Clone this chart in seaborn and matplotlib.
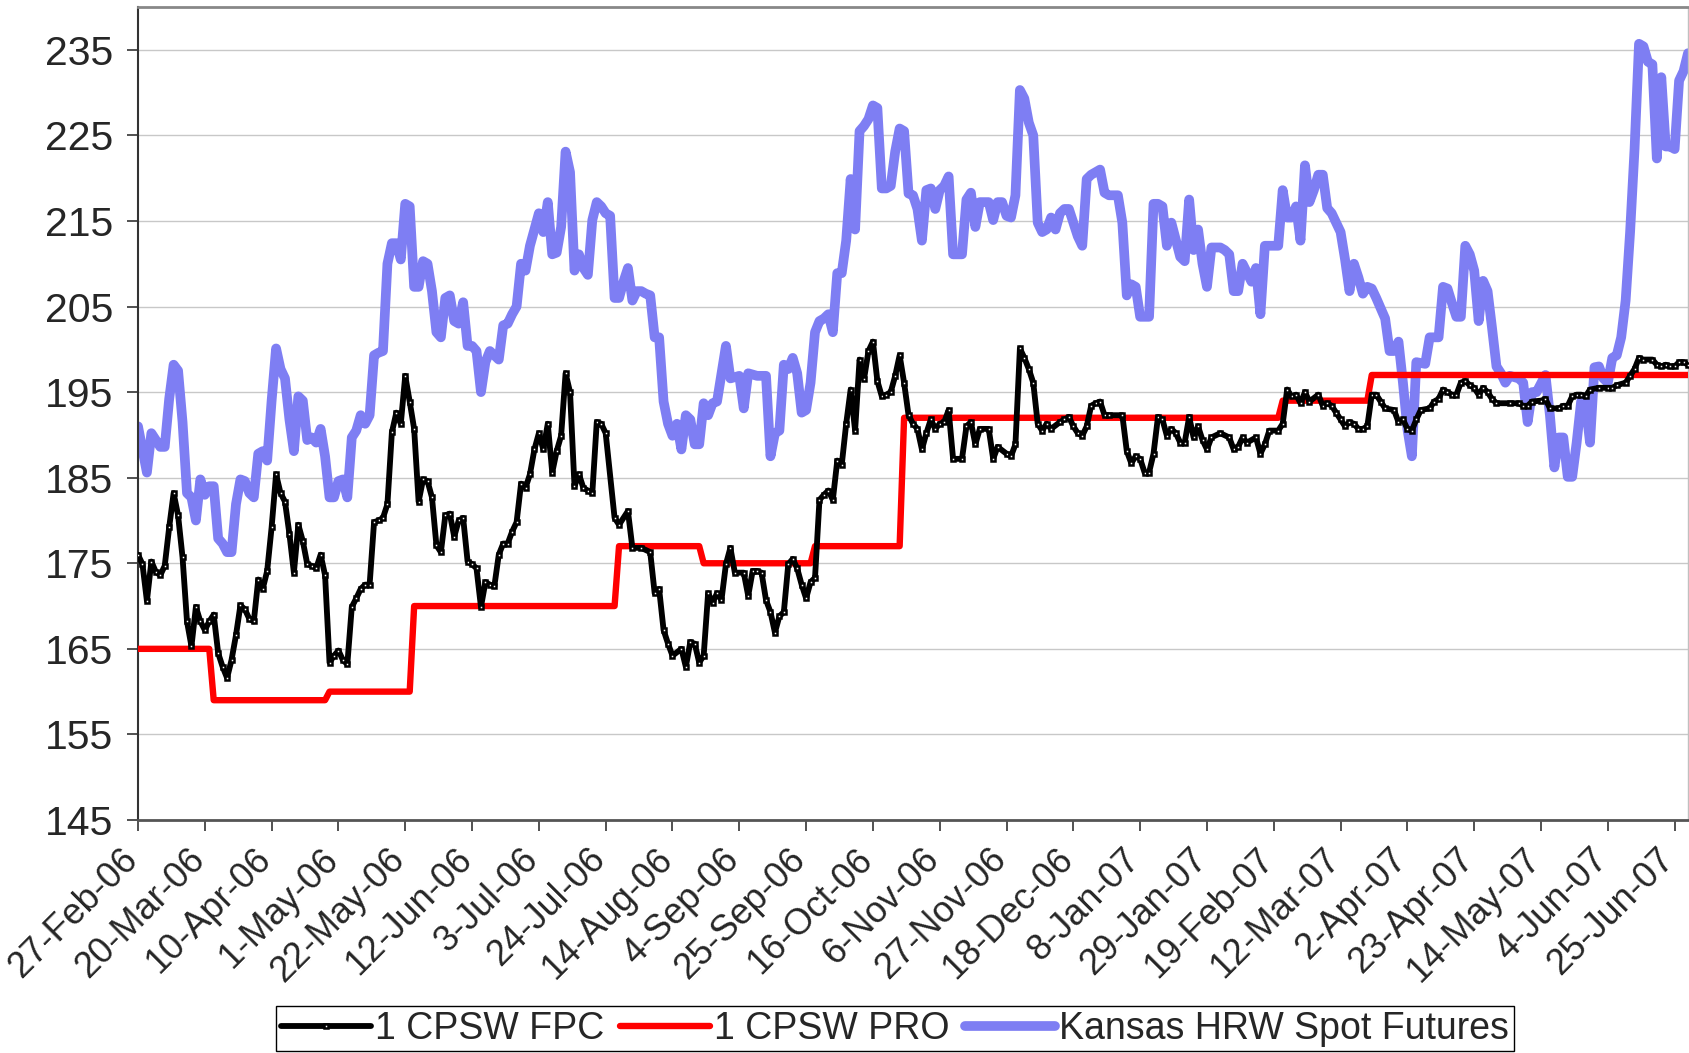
import pandas as pd
import matplotlib
matplotlib.use("Agg")
import matplotlib.pyplot as plt
from matplotlib.transforms import ScaledTranslation
import seaborn as sns

# x values are trading days counted from 27-Feb-06 (day 0)
last_day = 348

fpc_day = [0, 1, 2, 3, 4, 5, 6, 7, 8, 9, 10, 11, 12, 13, 14, 15, 16, 17, 18, 19,
           20, 21, 22, 23, 24, 25, 26, 27, 28, 29, 30, 31, 32, 33, 34, 35, 36, 37, 38, 39,
           40, 41, 42, 43, 44, 45, 46, 47, 48, 49, 50, 51, 52, 53, 54, 55, 56, 57, 58, 59,
           60, 61, 62, 63, 64, 65, 66, 67, 68, 69, 70, 71, 72, 73, 74, 75, 76, 77, 78, 79,
           80, 81, 82, 83, 84, 85, 86, 87, 88, 89, 90, 91, 92, 93, 94, 95, 96, 97, 98, 99,
           100, 101, 102, 103, 104, 105, 107, 108, 110, 111, 113, 115, 116, 117, 118, 119, 120, 122, 123, 124,
           125, 126, 127, 128, 129, 130, 131, 132, 133, 134, 136, 137, 138, 139, 140, 141, 142, 143, 144, 145,
           146, 147, 148, 149, 150, 151, 152, 153, 154, 155, 156, 157, 158, 159, 160, 161, 162, 163, 164, 165,
           166, 167, 168, 169, 170, 171, 172, 173, 174, 175, 176, 177, 178, 179, 180, 181, 182, 183, 185, 186,
           187, 188, 189, 191, 192, 193, 195, 196, 197, 198, 199, 200, 201, 202, 203, 204, 205, 207, 208, 209,
           210, 211, 212, 213, 214, 215, 216, 217, 218, 221, 222, 223, 224, 225, 226, 227, 228, 229, 230, 231,
           232, 233, 234, 235, 236, 237, 238, 239, 240, 241, 243, 245, 246, 247, 248, 249, 251, 252, 253, 254,
           256, 257, 258, 259, 260, 261, 262, 263, 265, 266, 267, 268, 269, 270, 271, 272, 273, 274, 275, 276,
           277, 278, 279, 280, 282, 283, 284, 285, 286, 287, 288, 290, 291, 292, 293, 294, 295, 296, 297, 298,
           299, 300, 301, 302, 303, 304, 305, 308, 310, 311, 312, 313, 315, 316, 317, 319, 320, 321, 322, 323,
           324, 325, 326, 328, 330, 331, 332, 334, 335, 336, 337, 338, 340, 341, 342, 343, 344, 345, 346, 347,
           348]
fpc_val = [176.0, 174.9, 170.6, 175.2, 174.0, 173.6, 174.7, 179.2, 183.2, 180.6, 175.7, 168.2, 165.3, 169.9, 168.2, 167.2, 168.2, 169.0, 164.5, 162.9,
           161.6, 163.7, 166.6, 170.1, 169.6, 168.5, 168.2, 173.1, 172.0, 174.1, 179.2, 185.4, 183.2, 182.2, 178.4, 173.9, 179.5, 177.6, 174.9, 174.7,
           174.4, 176.0, 173.6, 163.4, 164.2, 164.8, 163.7, 163.2, 169.9, 170.9, 172.0, 172.5, 172.5, 179.8, 180.0, 180.3, 181.9, 190.3, 192.6, 191.3,
           196.9, 193.9, 190.7, 182.2, 184.8, 184.6, 182.7, 177.1, 176.3, 180.6, 180.8, 178.1, 180.0, 180.3, 175.2, 174.9, 174.4, 169.9, 172.8, 172.5,
           172.3, 176.0, 177.3, 177.3, 178.7, 179.8, 184.3, 183.8, 185.4, 188.3, 190.2, 188.3, 191.3, 185.6, 188.1, 189.9, 197.2, 195.0, 184.0, 185.4,
           183.8, 183.5, 183.2, 191.5, 191.3, 190.2, 180.3, 179.5, 181.1, 176.8, 176.8, 176.3, 171.5, 172.0, 167.2, 165.6, 164.2, 165.0, 162.9, 165.8,
           165.6, 163.4, 164.2, 171.5, 170.4, 171.5, 170.7, 174.9, 176.8, 173.9, 173.9, 171.2, 174.1, 174.1, 173.9, 170.7, 169.3, 166.9, 168.8, 169.3,
           174.9, 175.5, 174.4, 172.5, 170.9, 172.8, 173.3, 182.4, 183.0, 183.5, 182.4, 187.0, 186.5, 191.3, 195.3, 190.5, 198.8, 196.5, 199.8, 200.9,
           196.3, 194.5, 194.7, 195.0, 196.9, 199.3, 196.1, 192.3, 191.3, 190.7, 188.3, 190.2, 191.8, 190.7, 191.3, 191.5, 192.9, 187.2, 187.2, 191.0,
           191.5, 188.9, 190.7, 190.7, 187.2, 188.6, 187.8, 187.5, 188.9, 200.1, 199.0, 197.7, 196.1, 191.3, 190.5, 191.3, 190.7, 191.5, 191.8, 192.1,
           191.0, 190.2, 189.9, 191.0, 193.4, 193.7, 193.9, 192.3, 192.3, 192.3, 188.1, 186.7, 187.5, 187.2, 185.6, 185.6, 187.8, 192.1, 191.8, 189.9,
           190.7, 190.2, 189.1, 189.1, 192.1, 189.7, 191.0, 189.4, 188.3, 189.7, 190.2, 189.7, 188.3, 188.6, 189.7, 189.1, 189.7, 187.8, 188.9, 190.5,
           190.5, 191.3, 195.3, 194.5, 194.7, 193.7, 195.0, 193.9, 194.7, 193.4, 193.7, 193.4, 192.6, 191.8, 191.0, 191.5, 191.3, 190.7, 190.7, 191.0,
           194.7, 194.7, 193.9, 193.1, 192.9, 191.5, 191.8, 190.7, 190.5, 191.8, 192.9, 193.1, 193.9, 194.2, 195.3, 195.0, 194.7, 194.7, 196.1, 196.3,
           195.8, 195.5, 194.7, 195.5, 195.0, 194.2, 193.7, 193.7, 193.7, 193.4, 193.4, 193.9, 194.0, 194.2, 193.1, 193.1, 193.4, 193.4, 194.5, 194.7,
           194.7, 194.5, 195.3, 195.5, 195.5, 195.5, 195.8, 196.1, 196.9, 197.7, 199.0, 198.8, 198.8, 198.2, 198.0, 198.2, 198.0, 198.0, 198.5, 198.5,
           198.2]

kansas_day = [0, 2, 3, 5, 6, 7, 8, 9, 10, 11, 12, 13, 14, 15, 16, 17, 18, 19, 20, 21,
              22, 23, 24, 25, 26, 27, 28, 29, 30, 31, 32, 33, 34, 35, 36, 37, 38, 39, 40, 41,
              42, 43, 44, 45, 46, 47, 48, 49, 50, 51, 52, 53, 54, 55, 56, 57, 58, 59, 60, 61,
              62, 63, 64, 65, 66, 67, 68, 69, 70, 71, 72, 73, 74, 75, 76, 77, 78, 79, 80, 81,
              82, 83, 84, 85, 86, 87, 88, 90, 91, 92, 93, 94, 95, 96, 97, 98, 99, 100, 101, 102,
              103, 104, 105, 106, 107, 108, 109, 110, 111, 112, 113, 114, 115, 116, 117, 118, 119, 120, 121, 122,
              123, 124, 125, 126, 127, 128, 129, 130, 132, 133, 135, 136, 137, 139, 141, 142, 143, 144, 145, 146,
              147, 148, 149, 150, 151, 152, 153, 154, 155, 156, 157, 158, 159, 160, 161, 162, 163, 164, 165, 166,
              167, 168, 169, 170, 171, 172, 173, 174, 175, 176, 177, 178, 179, 180, 181, 182, 183, 184, 185, 186,
              187, 188, 189, 191, 192, 193, 194, 195, 196, 197, 198, 199, 200, 201, 202, 203, 204, 205, 206, 207,
              208, 209, 210, 211, 212, 213, 214, 216, 217, 218, 220, 221, 222, 223, 224, 225, 227, 228, 229, 230,
              231, 232, 234, 235, 236, 237, 238, 239, 240, 241, 243, 244, 245, 246, 247, 248, 250, 251, 252, 253,
              256, 257, 258, 259, 260, 261, 262, 263, 264, 265, 266, 267, 268, 269, 270, 271, 272, 273, 274, 275,
              276, 277, 278, 280, 281, 282, 283, 284, 285, 286, 287, 289, 290, 292, 293, 294, 295, 296, 297, 298,
              299, 300, 301, 302, 303, 304, 305, 306, 307, 308, 310, 311, 312, 313, 314, 316, 317, 318, 319, 320,
              321, 322, 323, 324, 325, 326, 327, 328, 329, 330, 331, 332, 333, 334, 335, 336, 337, 338, 339, 340,
              341, 342, 343, 344, 345, 346, 347, 348]
kansas_val = [191.0, 185.6, 190.2, 188.6, 188.6, 194.2, 198.2, 197.5, 191.5, 183.2, 182.7, 180.0, 184.8, 183.0, 184.0, 184.0, 177.9, 177.3, 176.3, 176.3,
              181.9, 184.8, 184.6, 183.2, 182.7, 187.8, 188.1, 187.0, 194.0, 200.1, 197.7, 196.6, 191.8, 188.1, 194.5, 194.0, 189.4, 189.7, 189.1, 190.7,
              187.5, 182.7, 182.7, 184.6, 184.8, 182.7, 189.7, 190.5, 192.3, 191.3, 192.3, 199.3, 199.6, 199.8, 210.0, 212.4, 212.4, 210.5, 217.0, 216.7,
              207.3, 207.3, 210.3, 210.0, 206.8, 202.0, 201.4, 206.0, 206.3, 203.3, 203.0, 205.5, 200.4, 200.4, 199.8, 195.0, 198.5, 199.8, 199.3, 198.8,
              202.8, 203.0, 204.1, 205.0, 210.0, 209.2, 212.1, 215.9, 213.7, 217.2, 211.1, 211.3, 214.3, 223.1, 220.7, 209.2, 211.1, 209.5, 208.7, 215.1,
              217.2, 216.7, 215.9, 215.6, 206.0, 206.0, 207.9, 209.5, 205.7, 206.8, 206.8, 206.5, 206.3, 201.4, 201.4, 193.9, 191.3, 189.9, 191.3, 188.3,
              192.3, 191.8, 188.9, 188.9, 193.7, 192.3, 193.7, 193.9, 200.4, 196.6, 196.9, 193.1, 197.2, 196.9, 196.9, 187.5, 190.2, 190.5, 198.2, 197.7,
              199.0, 197.2, 192.6, 192.9, 196.1, 202.0, 203.3, 203.6, 204.1, 202.0, 208.9, 208.9, 212.7, 219.9, 214.0, 225.5, 226.1, 226.9, 228.5, 228.2,
              218.8, 218.8, 219.1, 223.1, 225.8, 225.5, 218.2, 218.0, 216.4, 212.7, 218.6, 218.8, 216.4, 218.6, 219.1, 220.2, 211.1, 211.1, 211.1, 217.5,
              218.3, 214.3, 217.2, 217.2, 215.1, 217.2, 217.2, 215.6, 215.4, 218.0, 230.3, 229.3, 226.5, 225.0, 214.8, 213.7, 214.0, 215.4, 214.0, 215.9,
              216.4, 216.4, 214.8, 213.2, 212.1, 219.9, 220.4, 221.0, 218.3, 218.0, 218.0, 214.8, 206.3, 207.6, 207.3, 203.8, 203.8, 217.0, 217.0, 216.7,
              212.1, 214.8, 210.8, 210.3, 217.5, 211.6, 214.0, 210.0, 207.3, 211.9, 211.9, 211.6, 211.1, 206.8, 206.8, 210.0, 207.9, 209.5, 204.1, 212.1,
              212.1, 218.6, 215.4, 215.4, 216.7, 212.7, 221.5, 217.2, 218.6, 220.4, 220.4, 216.5, 215.9, 214.8, 213.7, 210.5, 206.8, 210.0, 208.4, 206.5,
              207.3, 207.1, 206.0, 203.6, 199.8, 199.8, 200.9, 196.1, 190.7, 187.5, 198.5, 198.3, 201.4, 201.4, 207.3, 207.1, 205.4, 203.8, 203.8, 212.1,
              211.1, 209.2, 203.3, 208.0, 206.8, 202.5, 198.0, 197.2, 196.1, 196.9, 196.6, 196.1, 191.5, 195.0, 195.0, 197.0, 192.3, 186.2, 189.7, 189.7,
              185.1, 185.1, 189.1, 193.9, 193.7, 189.1, 197.9, 198.0, 196.6, 196.1, 199.0, 199.3, 201.4, 205.7, 213.7, 223.4, 235.7, 235.4, 233.6, 233.3,
              222.3, 231.8, 223.7, 223.7, 223.4, 231.4, 232.5, 234.6]

# PRO price: day each new level starts, and the level
pro_start = [0, 17, 43, 62, 108, 127, 152, 172, 257, 277]
pro_level = [165, 159, 160, 170, 177, 175, 177, 192, 194, 197]

y_ticks = list(range(145, 236, 10))

sns.set_style("ticks")
plt.rcParams["font.family"] = ["Liberation Sans", "DejaVu Sans"]

trade_dates = pd.bdate_range("2006-02-27", periods=last_day + 1)

# step series for PRO, one point at each end of a level
pro_day, pro_val = [], []
for s, e, lv in zip(pro_start, pro_start[1:] + [last_day + 1], pro_level):
    pro_day += [s, e - 1]
    pro_val += [lv, lv]

fpc = pd.DataFrame({"day": fpc_day, "price": fpc_val})
pro = pd.DataFrame({"day": pro_day, "price": pro_val})
kansas = pd.DataFrame({"day": kansas_day, "price": kansas_val})

fig = plt.figure(figsize=(16.9, 10.53), dpi=100)
ax = fig.add_axes([138 / 1690, 233 / 1053, 1550 / 1690, 813 / 1053])

sns.lineplot(data=kansas, x="day", y="price", color="#7e7ef3", linewidth=7.0,
             estimator=None, sort=False, label="Kansas HRW Spot Futures", zorder=2, ax=ax)
sns.lineplot(data=pro, x="day", y="price", color="#ff0000", linewidth=4.6,
             estimator=None, sort=False, label="1 CPSW PRO", zorder=3, ax=ax)
sns.lineplot(data=fpc, x="day", y="price", color="black", linewidth=4.2,
             marker="s", markersize=3.2, markerfacecolor="white", markeredgecolor="black",
             markeredgewidth=1.8, estimator=None, sort=False, label="1 CPSW FPC", zorder=4, ax=ax)

ax.set_xlim(0, last_day)
ax.set_ylim(145, 240)
ax.set_yticks(y_ticks)
tick_days = list(range(0, last_day + 1, 15))
ax.set_xticks(tick_days)
ax.set_xticklabels([f"{d.day}-{d:%b-%y}" for d in trade_dates[tick_days]])
ax.tick_params(axis="both", length=8, width=1.2, color="#333333")
ax.tick_params(axis="x", labelsize=26, pad=12)
ax.tick_params(axis="y", labelsize=29.5, pad=10)
# rotated date labels end just left of their tick
shift = ScaledTranslation(-18 / 100, 6 / 100, fig.dpi_scale_trans)
for lab in ax.get_xticklabels():
    lab.set_rotation(45)
    lab.set_ha("right")
    lab.set_va("top")
    lab.set_rotation_mode("anchor")
    lab.set_transform(lab.get_transform() + shift)
ax.set_xlabel("")
ax.set_ylabel("")

ax.yaxis.grid(True, color="#c8c8c8", linewidth=1)
ax.set_axisbelow(True)
ax.spines["left"].set_color("#333333")
ax.spines["left"].set_linewidth(1.5)
ax.spines["bottom"].set_color("#555555")
ax.spines["bottom"].set_linewidth(2)
ax.spines["top"].set_color("#888888")
ax.spines["top"].set_linewidth(2)
ax.spines["right"].set_color("#c0c0c0")
ax.spines["right"].set_linewidth(1)

handles, labels = ax.get_legend_handles_labels()
order = [labels.index(n) for n in ["1 CPSW FPC", "1 CPSW PRO", "Kansas HRW Spot Futures"]]
ax.get_legend().remove()
leg = fig.legend([handles[i] for i in order], [labels[i] for i in order],
                 loc="lower center", bbox_to_anchor=(895 / 1690, 0.0), ncol=3,
                 fontsize=27, frameon=True, fancybox=False, framealpha=1,
                 edgecolor="black", borderpad=0.12, handlelength=2.4,
                 handletextpad=0.12, columnspacing=0.4, borderaxespad=0.05)
leg.get_frame().set_linewidth(1)

fig.savefig("out.png", dpi=100)
